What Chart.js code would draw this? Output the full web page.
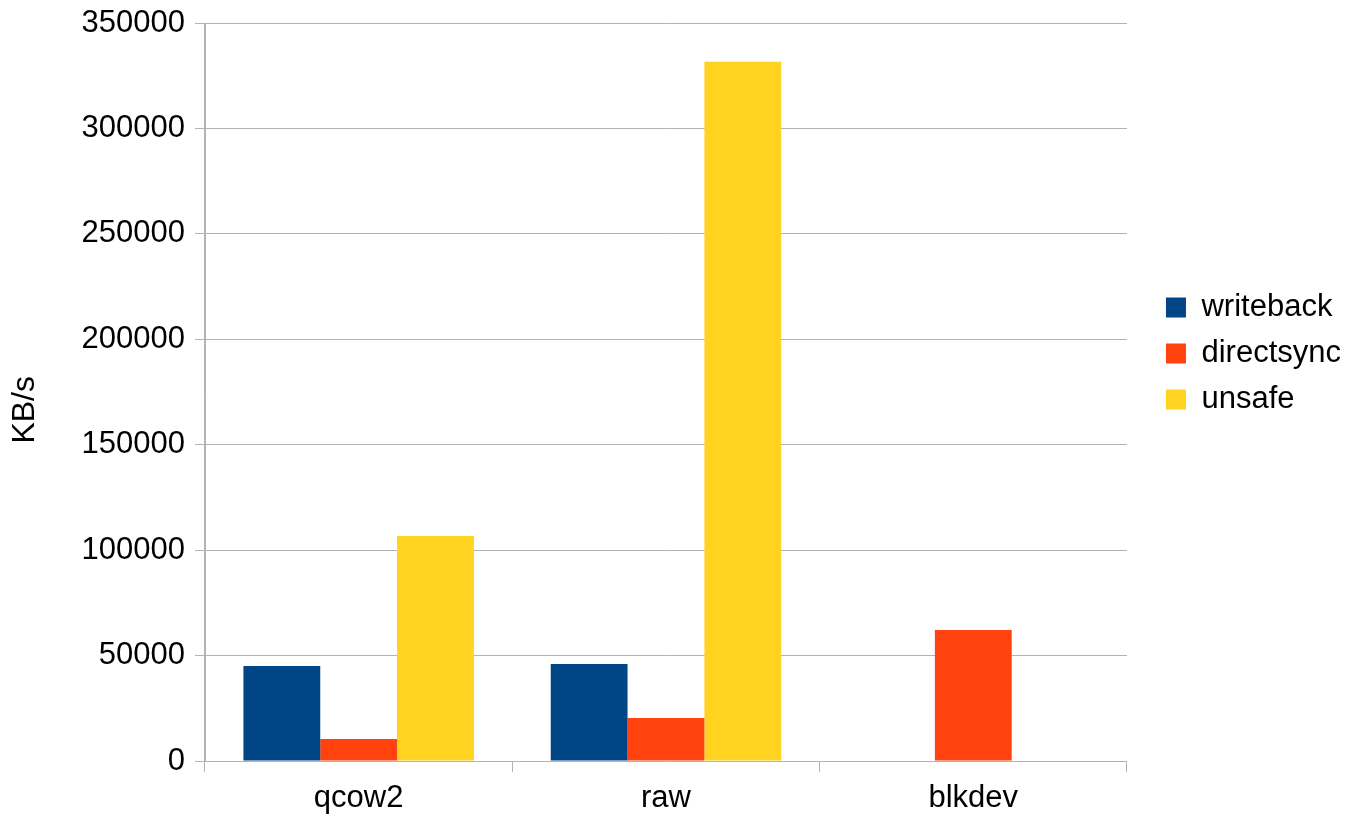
<!DOCTYPE html>
<html>
<head>
<meta charset="utf-8">
<title>KB/s por formato de disco</title>
<script src="https://cdn.jsdelivr.net/npm/chart.js@4/dist/chart.umd.min.js"></script>
<style>
  html, body { margin: 0; padding: 0; background: #fff; }
  canvas { display: block; }
</style>
</head>
<body>
<canvas id="grafico" width="1361" height="817"></canvas>
<script>
// ==========================
// DADOS
// ==========================
const formatos   = ["qcow2", "raw", "blkdev"];
const writeback  = [45000, 46000, null];
const directsync = [10400, 20400, 62100];
const unsafe     = [106700, 331600, null];
const yMax  = 350000;
const yPasso = 50000;

// ==========================
// ESTILO
// ==========================
const CINZA = "#b3b3b3";
const FONTE = { family: "'Liberation Sans', Arial, sans-serif", size: 31 };

Chart.defaults.color = "#000";
Chart.defaults.font.family = FONTE.family;

// ==========================
// GRÁFICO
// ==========================
new Chart(document.getElementById("grafico"), {
  type: "bar",
  data: {
    labels: formatos,
    datasets: [
      { label: "writeback",  data: writeback,  backgroundColor: "#004586" },
      { label: "directsync", data: directsync, backgroundColor: "#ff420e" },
      { label: "unsafe",     data: unsafe,     backgroundColor: "#ffd320" }
    ]
  },
  options: {
    responsive: false,
    animation: false,
    categoryPercentage: 0.75,
    barPercentage: 1.0,
    layout: { padding: { top: 23, right: 10, bottom: 0, left: 0 } },
    plugins: {
      tooltip: { enabled: false },
      legend: {
        position: "right",
        align: "start",
        // título vazio só para empurrar as legendas para baixo
        title: { display: true, text: "", font: { size: 12, lineHeight: 1 }, padding: { top: 242, bottom: 0 } },
        labels: {
          boxWidth: 20,
          boxHeight: 20,
          padding: 15,
          font: FONTE
        }
      }
    },
    scales: {
      x: {
        grid: {
          offset: true,
          // só as bordas esquerda e direita atravessam a área do gráfico
          color: ctx => (ctx.index === 0 || ctx.index === formatos.length) ? CINZA : "transparent",
          tickColor: CINZA,
          tickLength: 11
        },
        border: { display: false },
        ticks: { font: FONTE, padding: 8 },
        afterFit: s => { s.height = 56; }
      },
      y: {
        min: 0,
        max: yMax,
        grid: { color: CINZA, tickColor: CINZA, tickLength: 10 },
        border: { color: CINZA },
        // lineHeight menor para o rótulo de cima não empurrar a área do gráfico
        ticks: { stepSize: yPasso, font: { ...FONTE, lineHeight: 0.8 }, padding: 10, callback: v => String(v) },
        // espaços no fim descem o texto um pouco
        title: { display: true, text: "KB/s    ", font: { ...FONTE, size: 32 }, padding: { top: 6, bottom: 0 } },
        afterFit: s => { s.width = 205; }
      },
      // eixo vazio à direita, só para afastar a legenda
      espaco: {
        position: "right",
        grid: { display: false },
        border: { display: false },
        ticks: { display: false },
        afterFit: s => { s.width = 24; }
      }
    }
  }
});
</script>
</body>
</html>
